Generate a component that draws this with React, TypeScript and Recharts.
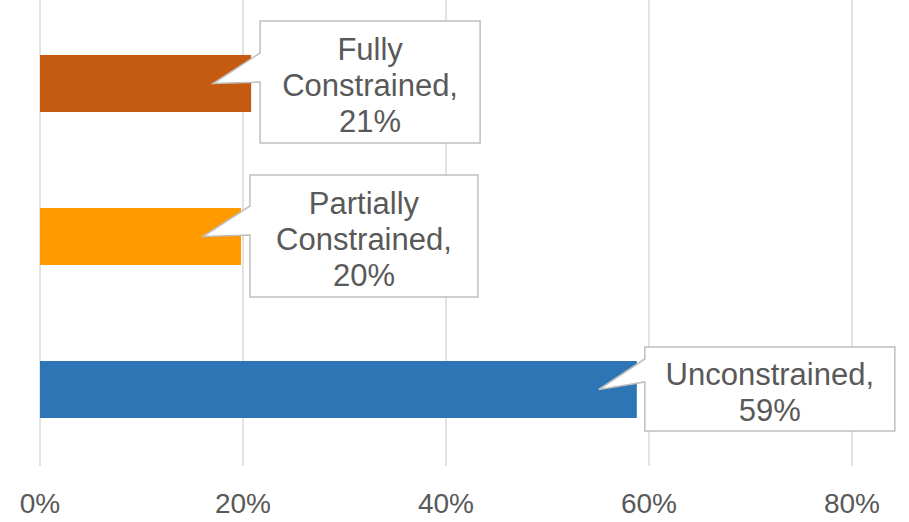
import React from 'react';
import { BarChart, Bar, XAxis, YAxis, CartesianGrid, Cell, LabelList } from 'recharts';

// Share of cases by constraint level
const CATEGORIES = ['Fully Constrained', 'Partially Constrained', 'Unconstrained'];
const SHARES = [0.208, 0.198, 0.588];
const LABEL_LINES = [
  ['Fully', 'Constrained,', '21%'],
  ['Partially', 'Constrained,', '20%'],
  ['Unconstrained,', '59%'],
];
const X_TICKS = [0, 0.2, 0.4, 0.6, 0.8];

const BAR_COLORS = ['#C55A11', '#FF9A00', '#2E75B6'];
const TEXT = '#595959';
const FONT = '"Liberation Sans", Arial, sans-serif';

// callout boxes: gap from bar end, width, height, top offset from bar top
const CALLOUTS = [
  { gap: 9, w: 220, h: 122, dy: -34 },
  { gap: 9, w: 228, h: 122, dy: -33 },
  { gap: 8, w: 250, h: 84, dy: -14 },
];

const data = CATEGORIES.map((name, i) => ({ name, share: SHARES[i] }));

function Callout(props: any) {
  const { x, y, width, height, index } = props;
  const c = CALLOUTS[index];
  const lines = LABEL_LINES[index];
  const end = x + width;
  const left = end + c.gap;
  const top = y + c.dy;
  const right = left + c.w;
  const bottom = top + c.h;
  const tipX = end - 38;
  const tipY = y + height / 2;
  const b1 = y + Math.max(c.dy + 12, -2);
  const b2 = b1 + (index === 2 ? 23 : 29);
  const path = `M${left},${top} L${right},${top} L${right},${bottom} L${left},${bottom} L${left},${b2} L${tipX},${tipY} L${left},${b1} Z`;
  const cx = left + c.w / 2;
  const lh = 36;
  const firstY = top + c.h / 2 - ((lines.length - 1) * lh) / 2 + 3;
  return (
    <g>
      <path d={path} fill="#FFFFFF" stroke="#BFBFBF" strokeWidth={1.5} />
      {lines.map((t, i) => (
        <text
          key={i}
          x={cx}
          y={firstY + i * lh}
          textAnchor="middle"
          dominantBaseline="central"
          fontFamily={FONT}
          fontSize={31}
          fill={TEXT}
        >
          {t}
        </text>
      ))}
    </g>
  );
}

function PctTick(props: any) {
  const { x, y, payload } = props;
  return (
    <text
      x={x}
      y={y + 29}
      textAnchor="middle"
      dominantBaseline="central"
      fontFamily={FONT}
      fontSize={28}
      fill={TEXT}
    >
      {`${Math.round(payload.value * 100)}%`}
    </text>
  );
}

function GridLine(props: any) {
  const { x1, x2, y1, y2 } = props;
  return <line x1={x1} x2={x2} y1={y1 - 8} y2={y2} stroke="#D9D9D9" strokeWidth={1.5} />;
}

export default function App() {
  return (
    <div style={{ position: 'absolute', left: 0, top: 0, width: 909, height: 522, background: '#FFFFFF' }}>
      <BarChart
        width={909}
        height={522}
        data={data}
        layout="vertical"
        margin={{ top: 7, right: 57, left: 40, bottom: 0 }}
        barCategoryGap="63%"
      >
        <CartesianGrid horizontal={false} vertical={GridLine as any} />
        <XAxis
          type="number"
          domain={[0, 0.8]}
          ticks={X_TICKS}
          axisLine={false}
          tickLine={false}
          tick={PctTick}
          height={56}
          interval={0}
        />
        <YAxis type="category" dataKey="name" hide />
        <Bar dataKey="share" barSize={57} isAnimationActive={false}>
          {data.map((_, i) => (
            <Cell key={i} fill={BAR_COLORS[i]} />
          ))}
          <LabelList dataKey="share" content={Callout} />
        </Bar>
      </BarChart>
    </div>
  );
}
